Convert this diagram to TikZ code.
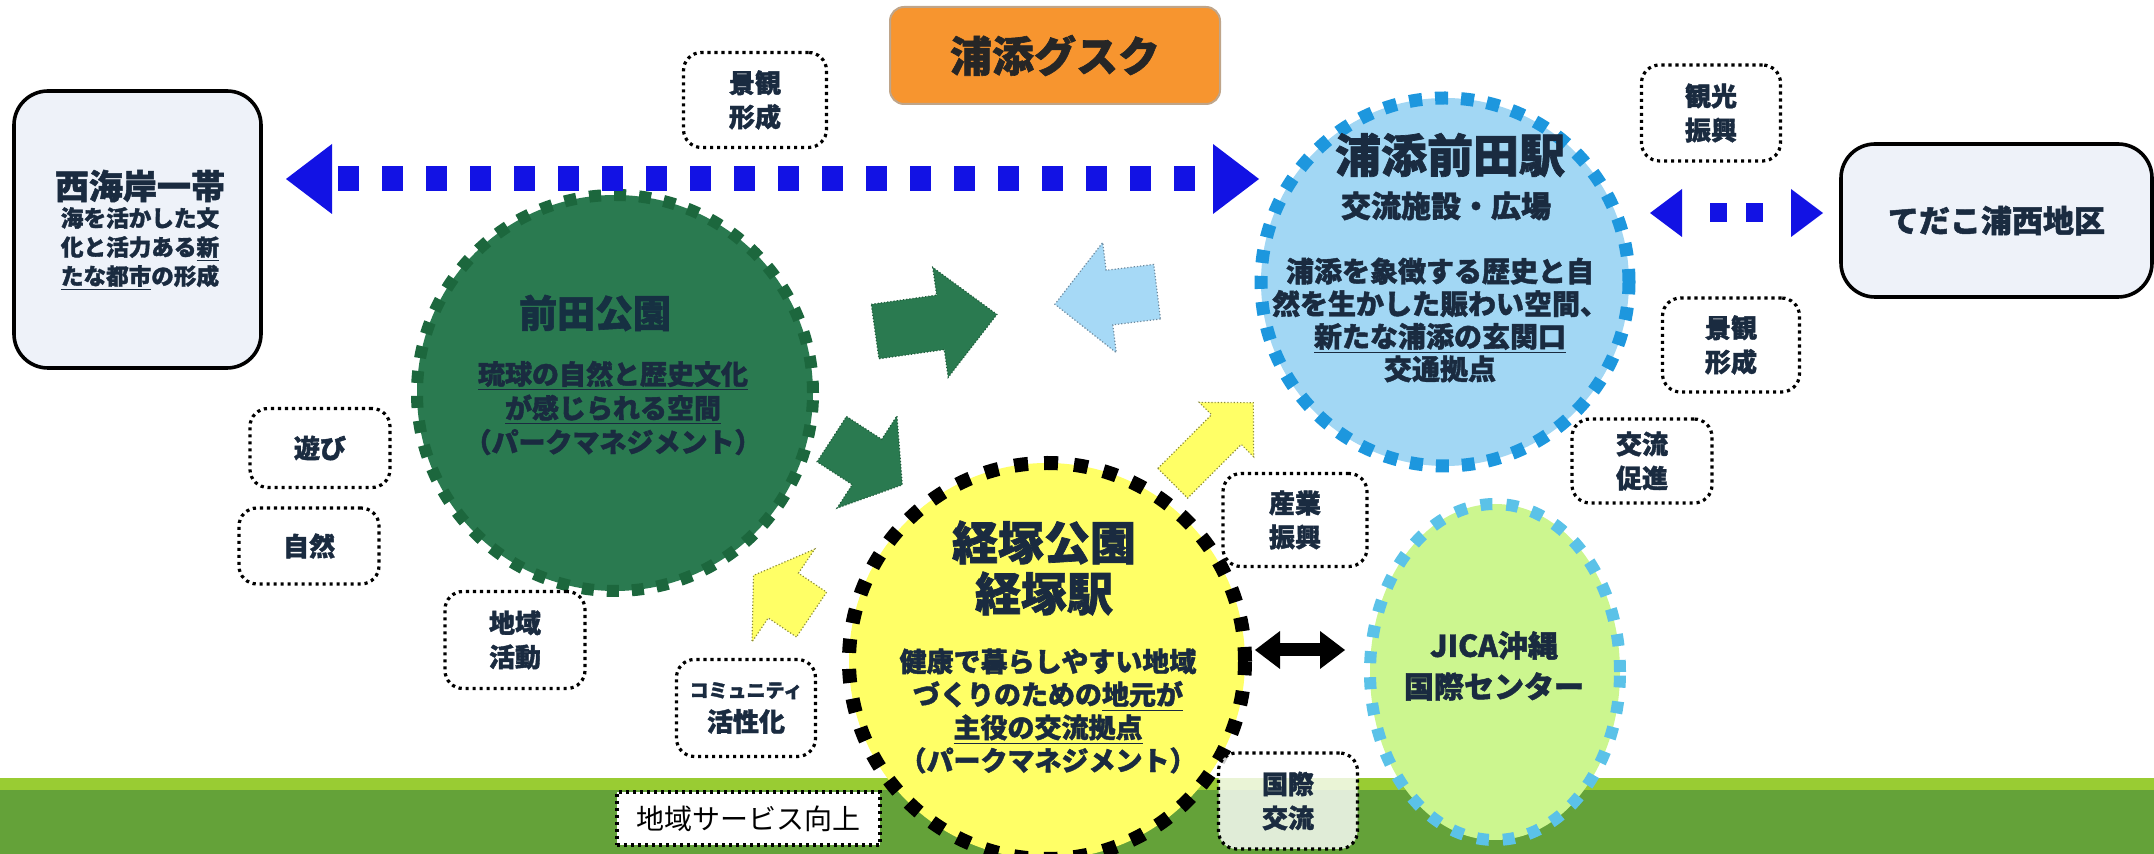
\documentclass[tikz,border=0pt]{standalone}
\usepackage{fontspec}
\setmainfont{Noto Sans CJK JP}[BoldFeatures={FakeBold=1.5}]
\usetikzlibrary{shapes.geometric,calc}
\definecolor{navy}{HTML}{1A2B40}
\definecolor{orangeT}{HTML}{F7952F}
\definecolor{orangeB}{HTML}{BFA58A}
\definecolor{boxfill}{HTML}{EEF2F9}
\definecolor{bluearr}{HTML}{1212E4}
\definecolor{stfill}{HTML}{A2D7F4}
\definecolor{stdash}{HTML}{1D97DE}
\definecolor{gfill}{HTML}{2A7A50}
\definecolor{gdash}{HTML}{1C673D}
\definecolor{gline}{HTML}{1F5E3C}
\definecolor{yfill}{HTML}{FFFF66}
\definecolor{yline}{HTML}{8E8E3A}
\definecolor{jfill}{HTML}{CCF68F}
\definecolor{jdash}{HTML}{5BC2E8}
\definecolor{ablue}{HTML}{A6D9F6}
\definecolor{abline}{HTML}{6E8A9E}
\definecolor{bandL}{HTML}{99CC33}
\definecolor{bandD}{HTML}{64A239}
\definecolor{gtext}{HTML}{163042}
\newcommand\blockarrow[8]{%
  \draw[#8, shift={(#1,#2)}, rotate=#3]
    ({-(#4)/2},{-(#5)/2}) -- ({(#4)/2-(#7)},{-(#5)/2}) -- ({(#4)/2-(#7)},{-(#6)/2})
    -- ({(#4)/2},0) -- ({(#4)/2-(#7)},{(#6)/2}) -- ({(#4)/2-(#7)},{(#5)/2})
    -- ({-(#4)/2},{(#5)/2}) -- cycle;}
\tikzset{
  smallbox/.style={draw=black, line width=1.6pt, dash pattern=on 1.6pt off 1.9pt,
    rounded corners=9pt, fill=white, align=center, inner sep=0pt, text=navy,
    font=\bfseries\fontsize{13}{17}\selectfont},
  bigbox/.style={draw=black, line width=1.8pt, rounded corners=17pt, fill=boxfill, inner sep=0pt},
  txt/.style={align=center, inner sep=0pt, text=navy},
  bluedash/.style={draw=bluearr, line width=12.5pt, dash pattern=on 10.5pt off 11.5pt},
  bluehead/.style={fill=bluearr},
  garrow/.style={fill=gfill, draw=gline, densely dotted, line width=0.6pt},
  barrow/.style={fill=ablue, draw=abline, densely dotted, line width=0.6pt},
  yarrow/.style={fill=yfill, draw=yline, densely dotted, line width=0.6pt},
}
\begin{document}
\begin{tikzpicture}[x=0.5pt,y=-0.5pt]
\useasboundingbox (0,0) rectangle (2154,854);
% ground band
\fill[bandL] (0,778) rectangle (2154,790);
\fill[bandD] (0,790) rectangle (2154,854);

% circles
\node[circle, fill=gfill, draw=gdash, line width=6pt, dash pattern=on 6pt off 6.5pt,
      minimum size=198pt, inner sep=0pt] (maeda) at (615,393) {};
\node[circle, fill=stfill, draw=stdash, line width=6.5pt, dash pattern=on 6.5pt off 6.5pt,
      minimum size=184pt, inner sep=0pt] (station) at (1445,282) {};
\node[circle, fill=yfill, draw=black, line width=7pt, dash pattern=on 7pt off 8pt,
      minimum size=198pt, inner sep=0pt] (kyozuka) at (1047,661) {};
\node[ellipse, fill=jfill, draw=jdash, line width=6pt, dash pattern=on 6pt off 7pt,
      minimum width=125pt, minimum height=168pt, inner sep=0pt] (jica) at (1495,672) {};

% big boxes
\node[bigbox, minimum width=123.5pt, minimum height=138.5pt] (west) at (137.5,229.5) {};
\node[bigbox, minimum width=155.5pt, minimum height=76.5pt] (tedako) at (1996.5,220.5) {};
\node[draw=orangeB, line width=1pt, fill=orangeT, rounded corners=7pt,
      minimum width=165pt, minimum height=48.5pt, inner sep=0pt,
      font=\bfseries\fontsize{21}{24}\selectfont, text=black!85] (gusuku) at (1055,55.5) {浦添グスク};

% small boxes
\node[smallbox, minimum width=71.5pt, minimum height=47.5pt] (keikanA) at (755,100) {景観\\形成};
\node[smallbox, minimum width=69.5pt, minimum height=48pt] (kanko) at (1711,113) {観光\\振興};
\node[smallbox, minimum width=68.5pt, minimum height=47pt] (keikanB) at (1731,345) {景観\\形成};
\node[smallbox, minimum width=70pt, minimum height=42pt] (koryu) at (1642,461) {交流\\促進};
\node[smallbox, minimum width=72pt, minimum height=46.5pt] (sangyo) at (1295,520) {産業\\振興};
\node[smallbox, fill opacity=0.8, text opacity=1, minimum width=69.5pt, minimum height=48pt] (kokusai) at (1288,801) {国際\\交流};
\node[smallbox, minimum width=70pt, minimum height=39.5pt] (asobi) at (320,448) {遊び};
\node[smallbox, minimum width=70pt, minimum height=38pt] (shizen) at (309,546) {自然};
\node[smallbox, minimum width=70pt, minimum height=48.5pt] (chiiki) at (515,640) {地域\\活動};
\node[smallbox, minimum width=69.5pt, minimum height=48.5pt] (comm) at (746,708)
  {{\fontsize{9.5}{12}\selectfont コミュニティ}\\活性化};
\node[smallbox, rounded corners=0pt, minimum width=131.5pt, minimum height=26.5pt,
      font=\fontsize{14}{16}\selectfont, text=black] (service) at (748.5,818.5) {地域サービス向上};

% block arrows
\blockarrow{936}{323}{8}{123}{55}{111}{57}{garrow}
\blockarrow{1106}{298}{187}{103}{55}{111}{55}{barrow}
\blockarrow{867}{462}{-33}{84}{54}{110}{42}{garrow}
\blockarrow{1213}{443}{45}{114}{42}{77}{38}{yarrow}
\blockarrow{782.5}{595}{146}{70}{54}{112}{36}{yarrow}

% big blue double arrow (west <-> station)
\coordinate (bwL) at (286,179);
\coordinate (bwR) at (1259,179);
\draw[bluedash] ($(bwL)+(52,0)$) -- ($(bwR)+(-46,0)$);
\fill[bluehead] (bwL) -- ++(46,-35) -- ++(0,70) -- cycle;
\fill[bluehead] (bwR) -- ++(-46,-35) -- ++(0,70) -- cycle;

% small blue double arrow (station <-> tedako)
\coordinate (bsL) at (1650,213);
\coordinate (bsR) at (1823,213);
\draw[draw=bluearr, line width=9.5pt, dash pattern=on 8.5pt off 9.5pt] ($(bsL)+(60,0)$) -- ($(bsR)+(-60,0)$);
\fill[bluehead] (bsL) -- ++(32,-24) -- ++(0,48) -- cycle;
\fill[bluehead] (bsR) -- ++(-32,-24) -- ++(0,48) -- cycle;

% black double arrow (kyozuka <-> jica)
\coordinate (kjL) at (1255,650);
\coordinate (kjR) at (1345,650);
\draw[line width=6.5pt] ($(kjL)+(20,0)$) -- ($(kjR)+(-20,0)$);
\fill (kjL) -- ++(25,-19) -- ++(0,38) -- cycle;
\fill (kjR) -- ++(-25,-19) -- ++(0,38) -- cycle;

% texts
\node[txt, font=\bfseries\fontsize{17}{20}\selectfont] (westT) at (140,186) {西海岸一帯};
\node[txt, font=\bfseries\fontsize{11.3}{14.5}\selectfont] (westB) at (140,249)
  {海を活かした文\\化と活力ある\underline{新}\\\underline{たな都市}の形成};
\node[txt, font=\bfseries\fontsize{15.5}{18}\selectfont] (tedakoT) at (tedako) {てだこ浦西地区};

\node[txt, text=gtext, font=\bfseries\fontsize{19}{22}\selectfont] (maedaT) at (595,313) {前田公園};
\node[txt, font=\bfseries\fontsize{13.5}{17}\selectfont] (maedaB) at (613,408)
  {\underline{琉球の自然と歴史文化}\\\underline{が感じられる空間}\\（パークマネジメント）};

\node[txt, font=\bfseries\fontsize{23}{26}\selectfont] (stationT) at (1450,155) {浦添前田駅};
\node[txt, font=\bfseries\fontsize{15}{18}\selectfont] (stationS) at (1446,206) {交流施設・広場};
\node[txt, font=\bfseries\fontsize{14}{16.3}\selectfont] (stationB) at (1440,320)
  {浦添を象徴する歴史と自\\然を生かした賑わい空間、\\\underline{新たな浦添の玄関口}\\交通拠点};

\node[txt, font=\bfseries\fontsize{23}{25.5}\selectfont] (kyozukaT) at (1044,568) {経塚公園\\経塚駅};
\node[txt, font=\bfseries\fontsize{13.5}{16.5}\selectfont] (kyozukaB) at (1048,711)
  {健康で暮らしやすい地域\\づくりのための\underline{地元が}\\\underline{主役の交流拠点}\\（パークマネジメント）};

\node[txt, font=\bfseries\fontsize{15}{20.5}\selectfont] (jicaT) at (1494,666) {JICA沖縄\\国際センター};
\end{tikzpicture}
\end{document}
